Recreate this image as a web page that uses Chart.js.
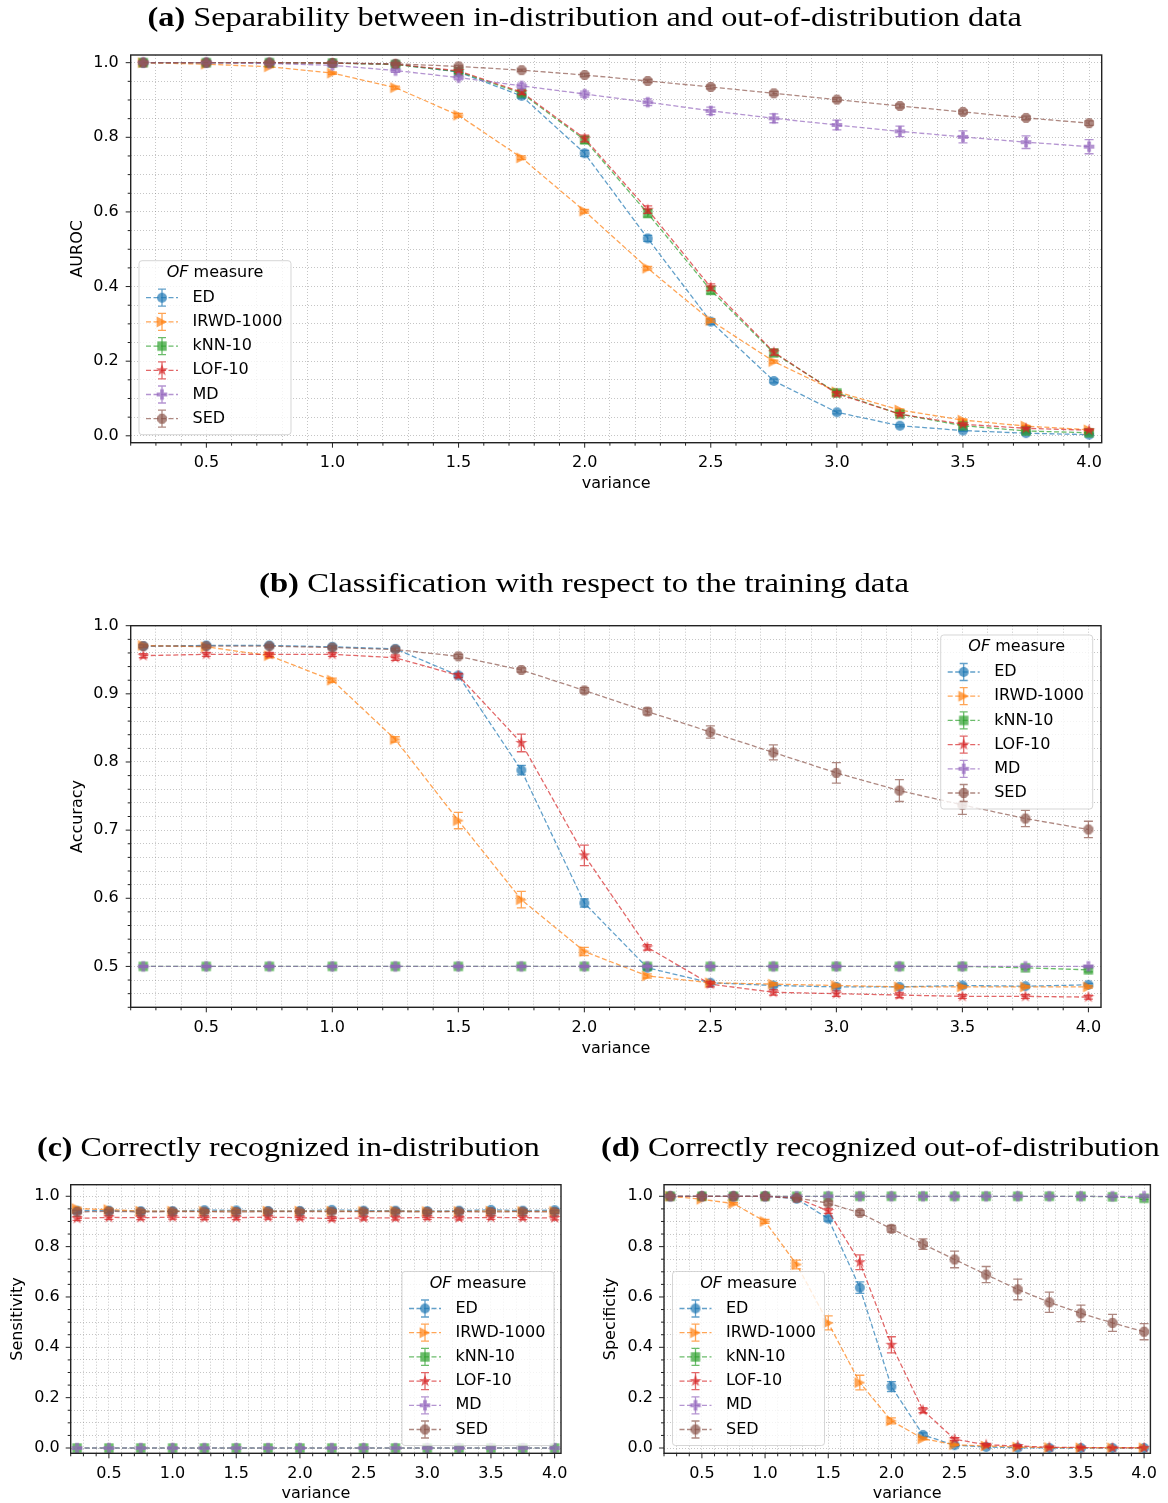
<!DOCTYPE html>
<html>
<head>
<meta charset="utf-8">
<script src="https://cdn.jsdelivr.net/npm/chart.js@4.4.0/dist/chart.umd.min.js"></script>
<style>
  html, body { margin: 0; padding: 0; background: #fff; }
  #page { position: relative; width: 1168px; height: 1503px; overflow: hidden; background: #fff; }
  canvas { position: absolute; left: 0; top: 0; }
  .title { position: absolute; white-space: nowrap; font-family: "Liberation Serif", "Times New Roman", serif; font-size: 28px; line-height: 1; color: #000; transform-origin: center center; z-index: 5; }
</style>
</head>
<body>
<div id="page">
  <canvas id="chartA" width="1168" height="1503"></canvas>
  <canvas id="chartB" width="1168" height="1503"></canvas>
  <canvas id="chartC" width="1168" height="1503"></canvas>
  <canvas id="chartD" width="1168" height="1503"></canvas>
  <div class="title" id="titleA"><b>(a)</b> Separability between in-distribution and out-of-distribution data</div>
  <div class="title" id="titleB"><b>(b)</b> Classification with respect to the training data</div>
  <div class="title" id="titleC"><b>(c)</b> Correctly recognized in-distribution</div>
  <div class="title" id="titleD"><b>(d)</b> Correctly recognized out-of-distribution</div>
</div>
<script>
// x values and series names
const variance = [0.25, 0.5, 0.75, 1.0, 1.25, 1.5, 1.75, 2.0, 2.25, 2.5, 2.75, 3.0, 3.25, 3.5, 3.75, 4.0];
const measures = ["ED", "IRWD-1000", "kNN-10", "LOF-10", "MD", "SED"];

// (a) AUROC
const aurocED   = [1.0, 1.0, 1.0, 0.999, 0.996, 0.975, 0.911, 0.757, 0.529, 0.306, 0.147, 0.063, 0.027, 0.014, 0.007, 0.003];
const aurocIRWD = [1.0, 0.996, 0.989, 0.972, 0.933, 0.859, 0.745, 0.602, 0.449, 0.309, 0.199, 0.118, 0.069, 0.042, 0.026, 0.016];
const aurocKNN  = [1.0, 1.0, 1.0, 0.999, 0.995, 0.976, 0.918, 0.793, 0.596, 0.390, 0.222, 0.115, 0.058, 0.027, 0.013, 0.008];
const aurocLOF  = [1.0, 1.0, 1.0, 0.999, 0.996, 0.978, 0.921, 0.797, 0.606, 0.398, 0.224, 0.113, 0.058, 0.031, 0.020, 0.015];
const aurocMD   = [1.0, 1.0, 0.998, 0.993, 0.979, 0.960, 0.938, 0.916, 0.894, 0.871, 0.851, 0.833, 0.816, 0.801, 0.787, 0.775];
const aurocSED  = [1.0, 1.0, 1.0, 0.999, 0.997, 0.990, 0.980, 0.967, 0.951, 0.935, 0.918, 0.901, 0.884, 0.868, 0.852, 0.838];
const aurocEDErr   = [0, 0, 0, 0.001, 0.002, 0.004, 0.006, 0.008, 0.008, 0.007, 0.005, 0.004, 0.003, 0.002, 0.002, 0.001];
const aurocIRWDErr = [0, 0.001, 0.002, 0.003, 0.004, 0.005, 0.005, 0.005, 0.005, 0.005, 0.004, 0.004, 0.003, 0.003, 0.002, 0.002];
const aurocKNNErr  = [0, 0, 0, 0.001, 0.002, 0.004, 0.006, 0.009, 0.010, 0.010, 0.008, 0.006, 0.004, 0.003, 0.002, 0.002];
const aurocLOFErr  = [0, 0, 0, 0.001, 0.002, 0.004, 0.006, 0.009, 0.010, 0.009, 0.008, 0.006, 0.004, 0.003, 0.002, 0.002];
const aurocMDErr   = [0, 0.001, 0.002, 0.003, 0.005, 0.006, 0.007, 0.008, 0.009, 0.010, 0.012, 0.013, 0.014, 0.016, 0.017, 0.019];
const aurocSEDErr  = [0, 0, 0.001, 0.001, 0.002, 0.003, 0.003, 0.004, 0.004, 0.005, 0.005, 0.005, 0.005, 0.005, 0.005, 0.006];

// (b) accuracy
const accED   = [0.970, 0.971, 0.971, 0.969, 0.966, 0.927, 0.788, 0.593, 0.498, 0.476, 0.472, 0.470, 0.470, 0.472, 0.471, 0.473];
const accIRWD = [0.971, 0.969, 0.956, 0.920, 0.833, 0.714, 0.598, 0.522, 0.486, 0.476, 0.474, 0.472, 0.470, 0.470, 0.470, 0.470];
const accKNN  = [0.5, 0.5, 0.5, 0.5, 0.5, 0.5, 0.5, 0.5, 0.5, 0.5, 0.5, 0.5, 0.5, 0.5, 0.498, 0.495];
const accLOF  = [0.956, 0.958, 0.958, 0.958, 0.953, 0.927, 0.828, 0.663, 0.528, 0.474, 0.462, 0.460, 0.458, 0.456, 0.456, 0.455];
const accMD   = [0.5, 0.5, 0.5, 0.5, 0.5, 0.5, 0.5, 0.5, 0.5, 0.5, 0.5, 0.5, 0.5, 0.5, 0.5, 0.5];
const accSED  = [0.970, 0.970, 0.970, 0.968, 0.965, 0.955, 0.935, 0.905, 0.874, 0.844, 0.814, 0.784, 0.758, 0.737, 0.717, 0.701];
const accEDErr   = [0.002, 0.002, 0.002, 0.002, 0.003, 0.003, 0.007, 0.006, 0.003, 0.002, 0.002, 0.002, 0.002, 0.002, 0.002, 0.002];
const accIRWDErr = [0.002, 0.002, 0.003, 0.003, 0.004, 0.012, 0.012, 0.006, 0.003, 0.002, 0.002, 0.002, 0.002, 0.002, 0.002, 0.002];
const accKNNErr  = [0.001, 0.001, 0.001, 0.001, 0.001, 0.001, 0.001, 0.001, 0.001, 0.001, 0.001, 0.001, 0.001, 0.001, 0.002, 0.003];
const accLOFErr  = [0.003, 0.003, 0.003, 0.003, 0.004, 0.003, 0.013, 0.015, 0.004, 0.004, 0.004, 0.004, 0.004, 0.003, 0.003, 0.003];
const accMDErr   = [0.001, 0.001, 0.001, 0.001, 0.001, 0.001, 0.001, 0.001, 0.001, 0.001, 0.001, 0.001, 0.001, 0.001, 0.001, 0.001];
const accSEDErr  = [0.002, 0.002, 0.002, 0.002, 0.002, 0.003, 0.003, 0.004, 0.005, 0.009, 0.011, 0.015, 0.016, 0.014, 0.012, 0.012];

// (c) sensitivity
const sensED   = [0.943, 0.943, 0.941, 0.941, 0.945, 0.944, 0.942, 0.942, 0.946, 0.943, 0.943, 0.941, 0.943, 0.946, 0.943, 0.945];
const sensIRWD = [0.951, 0.947, 0.941, 0.941, 0.940, 0.941, 0.941, 0.941, 0.941, 0.940, 0.941, 0.940, 0.940, 0.941, 0.940, 0.940];
const sensKNN  = [0, 0, 0, 0, 0, 0, 0, 0, 0, 0, 0, 0, 0, 0, 0, 0];
const sensLOF  = [0.912, 0.916, 0.915, 0.917, 0.915, 0.915, 0.917, 0.915, 0.911, 0.914, 0.914, 0.916, 0.914, 0.916, 0.915, 0.914];
const sensMD   = [0, 0, 0, 0, 0, 0, 0, 0, 0, 0, 0, 0, 0, 0, 0, 0];
const sensSED  = [0.938, 0.940, 0.938, 0.939, 0.939, 0.938, 0.939, 0.939, 0.939, 0.939, 0.939, 0.938, 0.939, 0.938, 0.939, 0.938];
const sensEDErr   = [0.006, 0.006, 0.006, 0.006, 0.006, 0.006, 0.006, 0.006, 0.006, 0.006, 0.006, 0.006, 0.006, 0.006, 0.006, 0.006];
const sensIRWDErr = [0.006, 0.006, 0.006, 0.006, 0.006, 0.006, 0.006, 0.006, 0.006, 0.006, 0.006, 0.006, 0.006, 0.006, 0.006, 0.006];
const sensKNNErr  = [0, 0, 0, 0, 0, 0, 0, 0, 0, 0, 0, 0, 0, 0, 0, 0];
const sensLOFErr  = [0.008, 0.008, 0.008, 0.008, 0.008, 0.008, 0.008, 0.008, 0.008, 0.008, 0.008, 0.008, 0.008, 0.008, 0.008, 0.008];
const sensMDErr   = [0, 0, 0, 0, 0, 0, 0, 0, 0, 0, 0, 0, 0, 0, 0, 0];
const sensSEDErr  = [0.006, 0.006, 0.006, 0.006, 0.006, 0.006, 0.006, 0.006, 0.006, 0.006, 0.006, 0.006, 0.006, 0.006, 0.006, 0.006];

// (d) specificity
const specED   = [1.0, 1.0, 1.0, 1.0, 0.990, 0.911, 0.637, 0.244, 0.052, 0.011, 0.004, 0.001, 0, 0, 0, 0];
const specIRWD = [1.0, 0.988, 0.971, 0.900, 0.729, 0.497, 0.260, 0.108, 0.037, 0.013, 0.008, 0.004, 0.002, 0.001, 0.001, 0.001];
const specKNN  = [1.0, 1.0, 1.0, 1.0, 1.0, 1.0, 1.0, 1.0, 1.0, 1.0, 1.0, 1.0, 1.0, 1.0, 0.998, 0.992];
const specLOF  = [1.0, 1.0, 1.0, 1.0, 0.993, 0.942, 0.738, 0.410, 0.150, 0.035, 0.013, 0.008, 0.003, 0.002, 0.001, 0.001];
const specMD   = [1.0, 1.0, 1.0, 1.0, 1.0, 1.0, 1.0, 1.0, 1.0, 1.0, 1.0, 1.0, 1.0, 1.0, 1.0, 1.0];
const specSED  = [1.0, 1.0, 1.0, 1.0, 0.993, 0.973, 0.934, 0.871, 0.810, 0.749, 0.689, 0.630, 0.579, 0.535, 0.497, 0.462];
const specEDErr   = [0, 0, 0, 0, 0.003, 0.010, 0.023, 0.020, 0.008, 0.004, 0.002, 0.001, 0, 0, 0, 0];
const specIRWDErr = [0, 0.003, 0.005, 0.008, 0.017, 0.028, 0.029, 0.012, 0.005, 0.003, 0.002, 0.001, 0.001, 0.001, 0, 0];
const specKNNErr  = [0, 0, 0, 0, 0, 0, 0, 0, 0, 0, 0, 0, 0, 0, 0.002, 0.004];
const specLOFErr  = [0, 0, 0, 0, 0.003, 0.010, 0.029, 0.032, 0.010, 0.006, 0.004, 0.002, 0.001, 0.001, 0, 0];
const specMDErr   = [0, 0, 0, 0, 0, 0, 0, 0, 0, 0, 0, 0, 0, 0, 0, 0];
const specSEDErr  = [0, 0, 0, 0, 0.003, 0.008, 0.010, 0.013, 0.021, 0.033, 0.032, 0.041, 0.040, 0.033, 0.034, 0.032];

const seriesColors = [
  "rgba(31,119,180,0.7)", "rgba(255,127,14,0.7)", "rgba(44,160,44,0.7)",
  "rgba(214,39,40,0.7)", "rgba(148,103,189,0.7)", "rgba(140,86,75,0.7)"
];
const markerShapes = ["circle", "triangleRight", "square", "star", "plus", "octagon"];
const fontSize = 16;
const lineH = fontSize * 1.2;
const tickFont = { family: "DejaVu Sans", size: fontSize };
const gridColor = "rgba(110,110,110,0.5)";

// small canvases used as point styles (filled matplotlib-like markers)
function makeMarker(shape, color) {
  const size = 16;
  const c = document.createElement("canvas");
  c.width = size;
  c.height = size;
  const g = c.getContext("2d");
  g.translate(size / 2, size / 2);
  g.fillStyle = color;
  g.beginPath();
  if (shape === "circle") {
    g.arc(0, 0, 5, 0, Math.PI * 2);
  } else if (shape === "triangleRight") {
    g.moveTo(5.4, 0); g.lineTo(-5.4, -5.4); g.lineTo(-5.4, 5.4);
  } else if (shape === "square") {
    g.rect(-4.7, -4.7, 9.4, 9.4);
  } else if (shape === "star") {
    for (let k = 0; k < 10; k++) {
      const r = k % 2 === 0 ? 6.3 : 2.6;
      const ang = -Math.PI / 2 + k * Math.PI / 5;
      g.lineTo(r * Math.cos(ang), r * Math.sin(ang));
    }
  } else if (shape === "plus") {
    const a = 5.3, b = 1.9;
    const pts = [[-b, -a], [b, -a], [b, -b], [a, -b], [a, b], [b, b], [b, a], [-b, a], [-b, b], [-a, b], [-a, -b], [-b, -b]];
    pts.forEach((p, k) => (k ? g.lineTo(p[0], p[1]) : g.moveTo(p[0], p[1])));
  } else if (shape === "octagon") {
    for (let k = 0; k < 8; k++) {
      const ang = Math.PI / 8 + k * Math.PI / 4;
      g.lineTo(5.4 * Math.cos(ang), 5.4 * Math.sin(ang));
    }
  }
  g.closePath();
  g.fill();
  return c;
}
const markerImages = markerShapes.map((s, i) => makeMarker(s, seriesColors[i]));

const isMajor = (v, step) => Math.abs(v / step - Math.round(v / step)) < 1e-6;

// vertical error bars with caps, drawn right after each line
const errorBarPlugin = {
  id: "errorBars",
  afterDatasetDraw(chart, args) {
    const ds = chart.data.datasets[args.index];
    if (!ds.errors) return;
    const { ctx, chartArea: a, scales: { x, y } } = chart;
    ctx.save();
    ctx.beginPath();
    ctx.rect(a.left, a.top, a.right - a.left, a.bottom - a.top);
    ctx.clip();
    ctx.strokeStyle = ds.borderColor;
    ctx.lineWidth = 1.3;
    ds.data.forEach((p, i) => {
      const e = ds.errors[i];
      if (!e) return;
      const px = x.getPixelForValue(p.x);
      const y1 = y.getPixelForValue(p.y - e);
      const y2 = y.getPixelForValue(p.y + e);
      ctx.beginPath();
      ctx.moveTo(px, y1); ctx.lineTo(px, y2);
      ctx.moveTo(px - 4.5, y1); ctx.lineTo(px + 4.5, y1);
      ctx.moveTo(px - 4.5, y2); ctx.lineTo(px + 4.5, y2);
      ctx.stroke();
    });
    ctx.restore();
  }
};

// axes frame plus major/minor tick marks
const frameTicksPlugin = {
  id: "frameTicks",
  afterDraw(chart, args, opts) {
    const { ctx, chartArea: a, scales: { x, y } } = chart;
    ctx.save();
    ctx.strokeStyle = "#222";
    ctx.lineWidth = 1;
    ctx.beginPath();
    x.ticks.forEach((t) => {
      const px = x.getPixelForValue(t.value);
      const len = isMajor(t.value, opts.xMajor) ? 5 : 3;
      ctx.moveTo(px, a.bottom); ctx.lineTo(px, a.bottom + len);
    });
    y.ticks.forEach((t) => {
      const py = y.getPixelForValue(t.value);
      const len = isMajor(t.value, opts.yMajor) ? 5 : 3;
      ctx.moveTo(a.left, py); ctx.lineTo(a.left - len, py);
    });
    ctx.stroke();
    ctx.lineWidth = 1.4;
    ctx.strokeRect(a.left, a.top, a.right - a.left, a.bottom - a.top);
    ctx.restore();
  }
};

// legend box with "OF measure" title and errorbar handles
const ofLegendPlugin = {
  id: "ofLegend",
  afterDraw(chart, args, opts) {
    const ctx = chart.ctx;
    const x0 = opts.left, y0 = opts.top, w = 152, h = 174;
    const regular = fontSize + 'px "DejaVu Sans"';
    const italic = "italic " + regular;
    ctx.save();
    ctx.beginPath();
    ctx.roundRect(x0, y0, w, h, 3);
    ctx.fillStyle = "rgba(255,255,255,0.8)";
    ctx.fill();
    ctx.strokeStyle = "rgba(204,204,204,0.8)";
    ctx.lineWidth = 1;
    ctx.stroke();

    ctx.fillStyle = "#000";
    ctx.textBaseline = "middle";
    ctx.textAlign = "left";
    ctx.font = italic;
    const w1 = ctx.measureText("OF").width;
    ctx.font = regular;
    const w2 = ctx.measureText(" measure").width;
    const tx = x0 + w / 2 - (w1 + w2) / 2;
    ctx.font = italic;
    ctx.fillText("OF", tx, y0 + 12);
    ctx.font = regular;
    ctx.fillText(" measure", tx + w1, y0 + 12);

    chart.data.datasets.forEach((ds, i) => {
      const yy = y0 + 37 + i * 24.2;
      const hx = x0 + 23;
      ctx.strokeStyle = ds.borderColor;
      ctx.lineWidth = 1.3;
      ctx.setLineDash([5, 2.5]);
      ctx.beginPath();
      ctx.moveTo(x0 + 7, yy); ctx.lineTo(x0 + 39, yy);
      ctx.stroke();
      ctx.setLineDash([]);
      ctx.beginPath();
      ctx.moveTo(hx, yy - 8.5); ctx.lineTo(hx, yy + 8.5);
      ctx.moveTo(hx - 4, yy - 8.5); ctx.lineTo(hx + 4, yy - 8.5);
      ctx.moveTo(hx - 4, yy + 8.5); ctx.lineTo(hx + 4, yy + 8.5);
      ctx.stroke();
      const img = ds.pointStyle;
      ctx.drawImage(img, hx - img.width / 2, yy - img.height / 2);
      ctx.fillStyle = "#000";
      ctx.fillText(ds.label, x0 + 53.5, yy);
    });
    ctx.restore();
  }
};

function buildChart(canvasId, box, yLabel, values, errors, yAxis) {
  const padLeft = box.yTitleX - lineH / 2 - 4;
  const scaleBottom = box.xTitleY + lineH / 2 + 4;
  const datasets = measures.map((name, i) => ({
    label: name,
    data: variance.map((v, j) => ({ x: v, y: values[i][j] })),
    errors: errors[i],
    borderColor: seriesColors[i],
    backgroundColor: seriesColors[i],
    borderWidth: 1.3,
    borderDash: [5, 2.5],
    pointStyle: markerImages[i],
    pointRadius: 5,
    pointHoverRadius: 5,
    fill: false,
    tension: 0,
    order: measures.length - i
  }));
  return new Chart(document.getElementById(canvasId), {
    type: "line",
    data: { datasets },
    options: {
      responsive: false,
      animation: false,
      devicePixelRatio: 1,
      events: [],
      layout: { padding: { left: padLeft, top: box.top, right: 1168 - box.right, bottom: 1503 - scaleBottom } },
      plugins: {
        legend: { display: false },
        tooltip: { enabled: false },
        ofLegend: box.legend,
        frameTicks: { xMajor: 0.5, yMajor: yAxis.major }
      },
      scales: {
        x: {
          type: "linear",
          min: 0.2,
          max: 4.05,
          afterFit: (s) => { s.height = scaleBottom - box.bottom; },
          ticks: {
            stepSize: 0.1, autoSkip: false, maxRotation: 0, includeBounds: false,
            padding: 11, color: "#000", font: tickFont,
            callback: (v) => (isMajor(v, 0.5) ? v.toFixed(1) : "")
          },
          grid: { color: gridColor, lineWidth: 0.8, drawTicks: false },
          border: { display: false, dash: [1, 2] },
          title: { display: true, text: "variance", color: "#000", font: tickFont, padding: { top: 4, bottom: 4 } }
        },
        y: {
          type: "linear",
          min: yAxis.min,
          max: yAxis.max,
          afterFit: (s) => { s.width = box.left - padLeft; },
          ticks: {
            stepSize: yAxis.minor, autoSkip: false, includeBounds: false,
            padding: box.yPad, color: "#000", font: tickFont,
            callback: (v) => (isMajor(v, yAxis.major) ? v.toFixed(1) : "")
          },
          grid: { color: gridColor, lineWidth: 0.8, drawTicks: false },
          border: { display: false, dash: [1, 2] },
          title: { display: true, text: yLabel, color: "#000", font: tickFont, padding: { top: 4, bottom: 4 } }
        }
      }
    },
    plugins: [errorBarPlugin, frameTicksPlugin, ofLegendPlugin]
  });
}

buildChart("chartA",
  { left: 130.7, top: 55, right: 1101.7, bottom: 442.7, yTitleX: 78, xTitleY: 484, yPad: 12, legend: { left: 139, top: 260.7 } },
  "AUROC",
  [aurocED, aurocIRWD, aurocKNN, aurocLOF, aurocMD, aurocSED],
  [aurocEDErr, aurocIRWDErr, aurocKNNErr, aurocLOFErr, aurocMDErr, aurocSEDErr],
  { min: -0.0185, max: 1.0206, major: 0.2, minor: 0.05 });

buildChart("chartB",
  { left: 130.7, top: 625.7, right: 1101, bottom: 1007.3, yTitleX: 78, xTitleY: 1049, yPad: 12, legend: { left: 940.7, top: 635 } },
  "Accuracy",
  [accED, accIRWD, accKNN, accLOF, accMD, accSED],
  [accEDErr, accIRWDErr, accKNNErr, accLOFErr, accMDErr, accSEDErr],
  { min: 0.44, max: 1.0, major: 0.1, minor: 0.02 });

buildChart("chartC",
  { left: 70.7, top: 1184.7, right: 561, bottom: 1453.3, yTitleX: 18, xTitleY: 1494, yPad: 11, legend: { left: 402, top: 1271.5 } },
  "Sensitivity",
  [sensED, sensIRWD, sensKNN, sensLOF, sensMD, sensSED],
  [sensEDErr, sensIRWDErr, sensKNNErr, sensLOFErr, sensMDErr, sensSEDErr],
  { min: -0.021, max: 1.046, major: 0.2, minor: 0.05 });

buildChart("chartD",
  { left: 664, top: 1184.7, right: 1153, bottom: 1453.3, yTitleX: 611, xTitleY: 1494, yPad: 11, legend: { left: 672.5, top: 1271.5 } },
  "Specificity",
  [specED, specIRWD, specKNN, specLOF, specMD, specSED],
  [specEDErr, specIRWDErr, specKNNErr, specLOFErr, specMDErr, specSEDErr],
  { min: -0.021, max: 1.046, major: 0.2, minor: 0.05 });

// panel titles: centred on their subfigure, stretched to the reference width
const titleBoxes = [
  { id: "titleA", cx: 584, cy: 17, width: 874 },
  { id: "titleB", cx: 584, cy: 583, width: 650 },
  { id: "titleC", cx: 288.5, cy: 1147, width: 503 },
  { id: "titleD", cx: 880.5, cy: 1147, width: 559 }
];
titleBoxes.forEach((t) => {
  const el = document.getElementById(t.id);
  const w = el.offsetWidth;
  const h = el.offsetHeight;
  el.style.left = (t.cx - w / 2) + "px";
  el.style.top = (t.cy - h / 2) + "px";
  el.style.transform = "scaleX(" + (t.width / w) + ")";
});
</script>
</body>
</html>
